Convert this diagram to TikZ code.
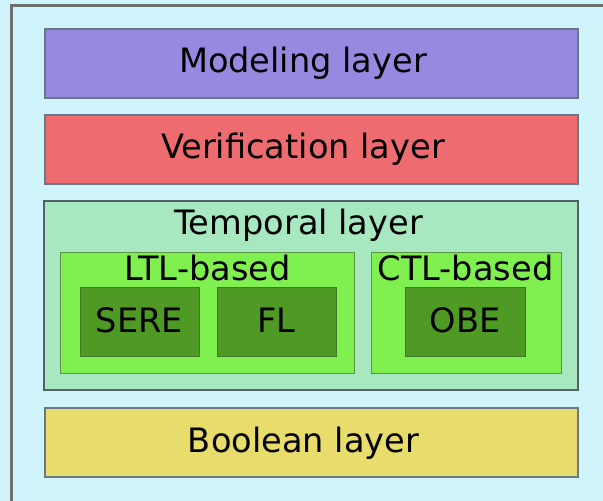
\documentclass[tikz,border=0pt]{standalone}
\usepackage{fontspec}
\setmainfont{DejaVu Sans}
\usetikzlibrary{positioning}

\definecolor{bgcyan}{RGB}{208,244,252}
\definecolor{frame}{RGB}{112,112,112}
\definecolor{edgegray}{RGB}{104,120,132}
\definecolor{modelfill}{RGB}{152,136,224}
\definecolor{veriffill}{RGB}{238,108,112}
\definecolor{tempfill}{RGB}{168,232,192}
\definecolor{basedfill}{RGB}{128,240,80}
\definecolor{basededge}{RGB}{90,150,70}
\definecolor{leaffill}{RGB}{78,154,36}
\definecolor{leafedge}{RGB}{64,120,40}
\definecolor{boolfill}{RGB}{232,220,108}

\begin{document}
\begin{tikzpicture}[x=1bp,y=-1bp,
  layer/.style={draw=edgegray,line width=1.2bp,minimum width=533bp,minimum height=69bp,inner sep=0pt},
  group/.style={draw=basededge,line width=1bp,fill=basedfill,minimum height=120bp,inner sep=0pt},
  leaf/.style={draw=leafedge,line width=1bp,fill=leaffill,minimum width=119bp,minimum height=69bp,inner sep=0pt},
  txt/.style={anchor=base,inner sep=0pt,font=\fontsize{33.6bp}{36bp}\selectfont}]
  \useasboundingbox (0,0) rectangle (603,501);
  % background frame
  \fill[bgcyan] (0,0) rectangle (603,501);
  \draw[frame,line width=3bp,fill=bgcyan] (11,5.5) rectangle (640,540);

  \node[layer,fill=modelfill] (modeling) at (311.5,63.5) {};
  \node[txt] (modelingtxt) at (303,73) {Modeling layer};

  \node[layer,fill=veriffill] (verif) at (311.5,149.5) {};
  \node[txt] (veriftxt) at (303,159) {Verification layer};

  \node[layer,fill=tempfill,draw=edgegray!80!black,minimum width=534bp,minimum height=189bp] (temporal) at (311,295.5) {};
  \node[txt] (temporaltxt) at (298.5,235) {Temporal layer};

  \node[group,minimum width=293bp] (ltl) at (207.5,313) {};
  \node[txt] (ltltxt) at (207.5,280) {LTL-based};
  \node[leaf] (sere) at (139.5,321.5) {};
  \node[txt] (seretxt) at (139.5,332) {SERE};
  \node[leaf] (fl) at (276.5,321.5) {};
  \node[txt] (fltxt) at (276.5,332) {FL};

  \node[group,minimum width=190bp] (ctl) at (466,313) {};
  \node[txt] (ctltxt) at (465.5,280) {CTL-based};
  \node[leaf,minimum width=120bp] (obe) at (465,321.5) {};
  \node[txt] (obetxt) at (465,332) {OBE};

  \node[layer,fill=boolfill] (boolean) at (311.5,442.5) {};
  \node[txt] (booleantxt) at (303.5,452) {Boolean layer};
\end{tikzpicture}
\end{document}
